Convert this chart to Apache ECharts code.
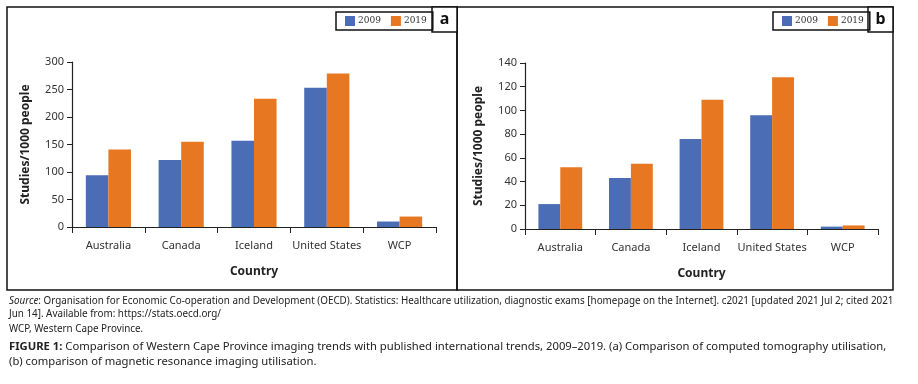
<!DOCTYPE html>
<html>
<head>
<meta charset="utf-8">
<script src="https://cdn.jsdelivr.net/npm/echarts@6/dist/echarts.min.js"></script>
<style>
  html, body { margin: 0; padding: 0; background: #fff; }
  #chart { width: 918px; height: 384px; }
</style>
</head>
<body>
<div id="chart"></div>
<script>
// data
const countries = ['Australia', 'Canada', 'Iceland', 'United States', 'WCP'];
const years = ['2009', '2019'];
// (a) computed tomography
const ct2009 = [94, 122, 157, 253, 10];
const ct2019 = [141, 155, 233, 279, 19];
// (b) magnetic resonance imaging
const mri2009 = [21, 43, 76, 96, 2];
const mri2019 = [52, 55, 109, 128, 3];

const blue = '#4a6db5';
const orange = '#e87722';
const font = '"Noto Sans", sans-serif';

function xAxisFor(gridIndex) {
    return {
        type: 'category',
        gridIndex: gridIndex,
        data: countries,
        name: 'Country',
        nameLocation: 'middle',
        nameGap: 39,
        nameTextStyle: { fontFamily: font, fontWeight: 'bold', fontSize: 12, color: '#222' },
        axisLine: { lineStyle: { color: '#222', width: 1.2 } },
        axisTick: { show: true, length: 6, lineStyle: { color: '#222' } },
        axisLabel: { fontFamily: font, fontSize: 11, color: '#333', margin: 13, interval: 0 }
    };
}

function yAxisFor(gridIndex, max, interval) {
    return {
        type: 'value',
        gridIndex: gridIndex,
        min: 0,
        max: max,
        interval: interval,
        name: 'Studies/1000 people',
        nameLocation: 'middle',
        nameGap: 40,
        nameTextStyle: { fontFamily: font, fontWeight: 'bold', fontSize: 12, color: '#222' },
        axisLine: { show: true, lineStyle: { color: '#222', width: 1.2 } },
        axisTick: { show: true, length: 5, lineStyle: { color: '#222' } },
        axisLabel: { fontFamily: font, fontSize: 11, color: '#333', margin: 8 },
        splitLine: { show: false }
    };
}

function legendAt(left) {
    return {
        data: years,
        left: left,
        top: 12,
        orient: 'horizontal',
        itemWidth: 10,
        itemHeight: 10,
        itemGap: 10,
        borderColor: '#111',
        borderWidth: 1.5,
        borderRadius: 0,
        padding: [4, 6, 4, 9],
        selectedMode: false,
        icon: 'rect',
        textStyle: { fontFamily: '"DejaVu Serif", serif', fontSize: 9, color: '#333', padding: [0, 0, 0, -2] }
    };
}

function bar(name, data, color, axisIndex) {
    return {
        name: name,
        type: 'bar',
        xAxisIndex: axisIndex,
        yAxisIndex: axisIndex,
        data: data,
        itemStyle: { color: color },
        barGap: '0%',
        barCategoryGap: '38%'
    };
}

function panelLabel(text, x) {
    return [
        { type: 'rect', shape: { x: x, y: 7, width: 25, height: 25 },
          style: { fill: '#fff', stroke: '#111', lineWidth: 1.5 } },
        { type: 'text', x: x + 12.5, y: 19.5,
          style: { text: text, fontFamily: font, fontWeight: 'bold', fontSize: 16, fill: '#111',
                   align: 'center', verticalAlign: 'middle' } }
    ];
}

const captionFont = '"Noto Sans", sans-serif';

const chart = echarts.init(document.getElementById('chart'));
chart.setOption({
    backgroundColor: '#fff',
    animation: false,
    legend: [legendAt(336), legendAt(773)],
    grid: [
        { left: 72, right: 482, top: 62, bottom: 157 },
        { left: 525, right: 40, top: 63, bottom: 155 }
    ],
    xAxis: [xAxisFor(0), xAxisFor(1)],
    yAxis: [yAxisFor(0, 300, 50), yAxisFor(1, 140, 20)],
    series: [
        bar('2009', ct2009, blue, 0),
        bar('2019', ct2019, orange, 0),
        bar('2009', mri2009, blue, 1),
        bar('2019', mri2019, orange, 1)
    ],
    graphic: [
        // panel frames
        { type: 'rect', z: -10, shape: { x: 7, y: 7, width: 450, height: 283 },
          style: { fill: 'none', stroke: '#111', lineWidth: 1.5 } },
        { type: 'rect', z: -10, shape: { x: 457, y: 7, width: 436, height: 283 },
          style: { fill: 'none', stroke: '#111', lineWidth: 1.5 } },
        ...panelLabel('a', 432),
        ...panelLabel('b', 868),
        // captions
        { type: 'text', left: 9, top: 295,
          style: { text: '{i|Source}: Organisation for Economic Co-operation and Development (OECD). Statistics: Healthcare utilization, diagnostic exams [homepage on the Internet]. c2021 [updated 2021 Jul 2; cited 2021\nJun 14]. Available from: https://stats.oecd.org/',
                   fontFamily: captionFont, fontSize: 9.85, lineHeight: 13, fill: '#222',
                   rich: { i: { fontStyle: 'italic', fontFamily: captionFont, fontSize: 9.85, fill: '#222' } } } },
        { type: 'text', left: 9, top: 324,
          style: { text: 'WCP, Western Cape Province.', fontFamily: captionFont, fontSize: 9.85, fill: '#222' } },
        { type: 'text', left: 9, top: 339,
          style: { text: '{b|FIGURE 1:} Comparison of Western Cape Province imaging trends with published international trends, 2009\u20132019. (a) Comparison of computed tomography utilisation,\n(b) comparison of magnetic resonance imaging utilisation.',
                   fontFamily: captionFont, fontSize: 11.25, lineHeight: 15, fill: '#222',
                   rich: { b: { fontWeight: 'bold', fontFamily: captionFont, fontSize: 11.25, fill: '#222' } } } }
    ]
});
</script>
</body>
</html>
